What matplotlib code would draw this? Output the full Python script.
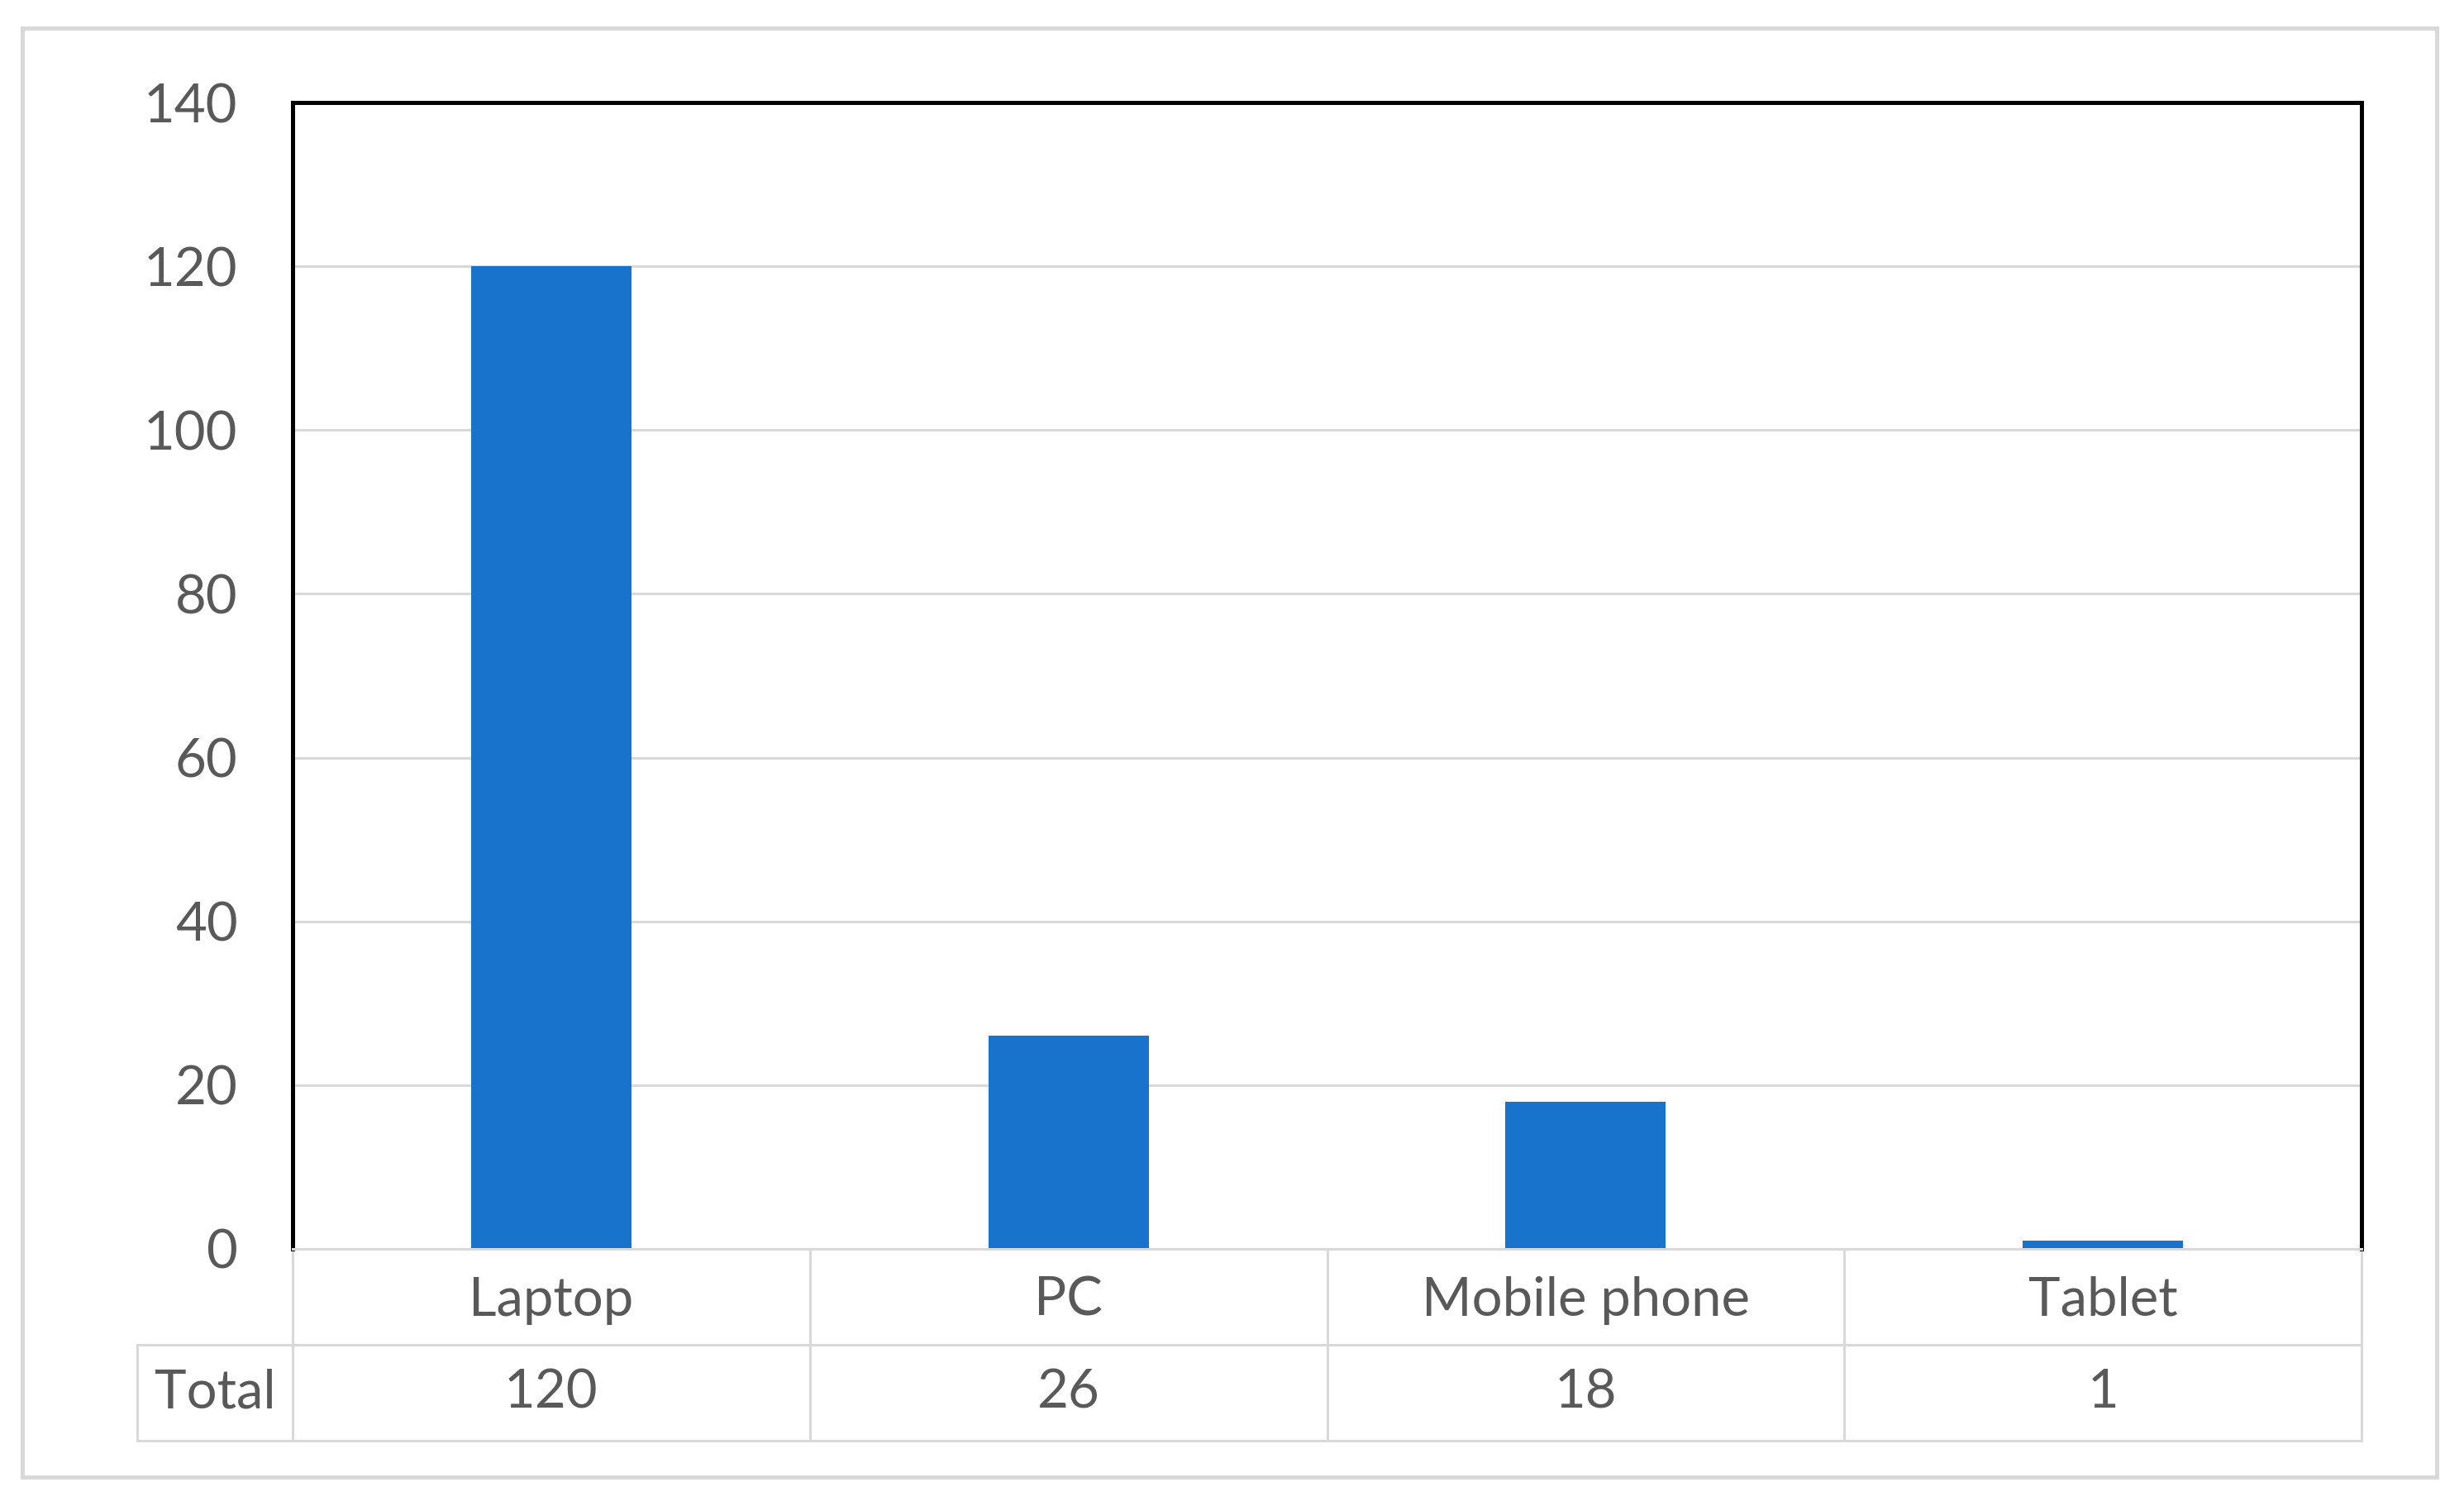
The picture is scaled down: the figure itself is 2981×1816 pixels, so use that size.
import matplotlib.pyplot as plt
from matplotlib.patches import Rectangle

categories = ['Laptop', 'PC', 'Mobile phone', 'Tablet']
totals = [120, 26, 18, 1]
row_label = 'Total'
yticks = [0, 20, 40, 60, 80, 100, 120, 140]

bar_color = '#1873cc'
grid_color = '#d9d9d9'
text_color = '#595959'
fs = 47

plt.rcParams['font.family'] = ['Lato', 'DejaVu Sans']

fig = plt.figure(figsize=(29.81, 18.16), dpi=100)
ax = fig.add_axes([0.1188, 0.168, 0.8396, 0.7637])

x = list(range(len(categories)))
ax.bar(x, totals, width=0.31, color=bar_color, zorder=3)
ax.set_xlim(-0.5, len(categories) - 0.5)
ax.set_ylim(0, 140)
ax.set_yticks(yticks)
ax.set_yticklabels([str(t) for t in yticks], fontsize=fs, color=text_color)
ax.tick_params(axis='y', length=0, pad=48)
ax.set_xticks([])

for t in yticks[1:-1]:
    ax.axhline(t, color=grid_color, lw=2.2, zorder=1)

for side in ['left', 'top', 'right']:
    ax.spines[side].set_color('black')
    ax.spines[side].set_linewidth(3.6)
ax.spines['bottom'].set_visible(False)

# data table under the chart
tr = ax.get_xaxis_transform()
row_h = 0.0836
label_left = -0.8
right = len(categories) - 0.5
lw_tab = 2.2
ax.plot([-0.5, right], [0, 0], transform=tr, color=grid_color, lw=lw_tab, clip_on=False, zorder=4)
for yy in [-row_h, -2 * row_h]:
    ax.plot([label_left, right], [yy, yy], transform=tr, color=grid_color, lw=lw_tab, clip_on=False)
for xb in [i - 0.5 for i in range(len(categories) + 1)]:
    ax.plot([xb, xb], [0, -2 * row_h], transform=tr, color=grid_color, lw=lw_tab, clip_on=False)
ax.plot([label_left, label_left], [-row_h, -2 * row_h], transform=tr, color=grid_color, lw=lw_tab, clip_on=False)

for i, (c, v) in enumerate(zip(categories, totals)):
    ax.text(i, -row_h / 2 - 0.003, c, transform=tr, ha='center', va='center', fontsize=fs, color=text_color)
    ax.text(i, -1.5 * row_h, str(v), transform=tr, ha='center', va='center', fontsize=fs, color=text_color)
ax.text((label_left - 0.5) / 2, -1.5 * row_h, row_label, transform=tr, ha='center', va='center',
        fontsize=fs, color=text_color)

# outer chart border
fig.patches.append(Rectangle((27 / 2981, 1 - 1787 / 1816), (2948 - 27) / 2981, (1787 - 34) / 1816,
                             transform=fig.transFigure, fill=False, edgecolor=grid_color, lw=3.6))

fig.savefig('out.png', dpi=100, facecolor='white')
